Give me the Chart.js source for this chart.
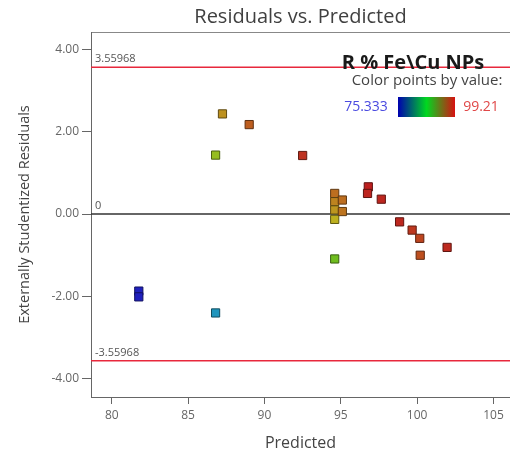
<!DOCTYPE html>
<html><head><meta charset="utf-8">
<script src="https://cdn.jsdelivr.net/npm/chart.js@4"></script>
<style>html,body{margin:0;padding:0;background:#fff}#wrap{width:510px;height:455px}</style>
</head><body><div id="wrap"><canvas id="c" width="510" height="455"></canvas></div>
<script>
// ---- data ----
const predicted = [81.77, 81.77, 86.8, 86.8, 87.25, 89.0, 92.5, 94.6, 94.6, 94.6, 94.6, 95.1, 95.1, 94.6, 96.8, 96.75, 97.65, 98.85, 99.67, 100.17, 100.2, 101.96];
const residuals = [-1.87, -2.01, -2.40, 1.43, 2.43, 2.17, 1.42, 0.50, 0.30, 0.10, -0.13, 0.34, 0.06, -1.09, 0.66, 0.50, 0.36, -0.19, -0.39, -0.59, -1.00, -0.81];
const responses = [75.4, 75.333, 79.8, 91.8, 94.9, 96.8, 98.5, 96.2, 95.4, 94.7, 93.7, 96.2, 96.0, 90.3, 99.21, 99.0, 98.9, 98.9, 98.3, 97.8, 97.4, 98.8];
const xTicks = [80, 85, 90, 95, 100, 105];
const yTicks = [-4, -2, 0, 2, 4];
const limitValue = 3.55968;
const refLines = [limitValue, 0, -limitValue];
const refLabels = ['3.55968', '0', '-3.55968'];
const colorMin = 75.333, colorMax = 99.21;
const colorRangeLabels = ['75.333', '99.21'];
const legendTitle = 'R % Fe\\Cu NPs';
const legendSub = 'Color points by value:';

const FONT = "'Open Sans', 'DejaVu Sans', sans-serif";

function hueOf(v) {
  let t = (v - colorMin) / (colorMax - colorMin);
  t = Math.max(0, Math.min(1, t));
  return 240 * (1 - t);
}
const fillColors = responses.map(v => `hsl(${hueOf(v)}, 72%, 43%)`);
const edgeColors = responses.map(v => `hsl(${hueOf(v)}, 70%, 22%)`);

const overlay = {
  id: 'overlay',
  beforeDatasetsDraw(chart) {
    const {ctx, chartArea: a, scales: {y}} = chart;
    ctx.save();
    ctx.beginPath(); ctx.rect(a.left, a.top, a.right - a.left, a.bottom - a.top); ctx.clip();
    refLines.forEach((v, i) => {
      const py = y.getPixelForValue(v);
      ctx.beginPath();
      ctx.strokeStyle = v === 0 ? '#333333' : '#e8283c';
      ctx.lineWidth = v === 0 ? 1.6 : 1.5;
      ctx.moveTo(a.left, py); ctx.lineTo(a.right, py); ctx.stroke();
      ctx.fillStyle = '#555';
      ctx.font = `11px ${FONT}`;
      ctx.textAlign = 'left'; ctx.textBaseline = 'middle';
      ctx.fillText(refLabels[i], a.left + 4, py - 8);
    });
    ctx.restore();
  },
  afterDraw(chart) {
    const {ctx} = chart;
    ctx.save();
    ctx.textAlign = 'center'; ctx.textBaseline = 'middle';
    ctx.fillStyle = '#1a1a1a';
    ctx.font = `bold 20px ${FONT}`;
    ctx.fillText(legendTitle, 413, 63);
    ctx.fillStyle = '#444';
    ctx.font = `15px ${FONT}`;
    ctx.fillText(legendSub, 427, 81);
    ctx.font = `14px ${FONT}`;
    ctx.fillStyle = '#4a4ae0';
    ctx.fillText(colorRangeLabels[0], 366, 107);
    ctx.fillStyle = '#e04848';
    ctx.fillText(colorRangeLabels[1], 481, 107);
    const g = ctx.createLinearGradient(398, 0, 455, 0);
    g.addColorStop(0, '#0000b0');
    g.addColorStop(0.5, '#00d820');
    g.addColorStop(1, '#d81010');
    ctx.fillStyle = g;
    ctx.fillRect(398, 97, 57, 20);
    ctx.restore();
  }
};

new Chart(document.getElementById('c'), {
  type: 'scatter',
  data: {
    datasets: [{
      data: predicted.map((x, i) => ({x, y: residuals[i]})),
      pointStyle: 'rect',
      pointRadius: 5.8,
      pointHoverRadius: 5.8,
      backgroundColor: fillColors,
      borderColor: edgeColors,
      borderWidth: 1
    }]
  },
  options: {
    responsive: false,
    animation: false,
    layout: {padding: 0, autoPadding: false},
    plugins: {
      legend: {display: false},
      tooltip: {enabled: false},
      title: {
        display: true, text: 'Residuals vs. Predicted', fullSize: false,
        color: '#404040', font: {family: FONT, size: 20, weight: 'normal'},
        padding: {top: 5, bottom: 3}
      }
    },
    scales: {
      x: {
        type: 'linear', min: 78.64, max: 106.08,
        afterBuildTicks: s => { s.ticks = xTicks.map(v => ({value: v})); },
        afterFit: s => { s.height = 58; s.paddingLeft = 0; s.paddingRight = 0; },
        grid: {display: true, drawOnChartArea: false, drawTicks: true, tickLength: 7, color: '#666'},
        border: {display: true, color: '#666', width: 1},
        ticks: {color: '#666', font: {family: FONT, size: 12}, padding: 4, callback: v => String(v)},
        title: {display: true, text: 'Predicted', color: '#444', font: {family: FONT, size: 16}, padding: {top: 0, bottom: 2}}
      },
      x2: {
        type: 'linear', position: 'top', min: 78.64, max: 106.08,
        afterFit: s => { s.height = 0; s.paddingLeft = 0; s.paddingRight = 0; },
        grid: {display: false},
        border: {display: true, color: '#888', width: 1},
        ticks: {display: false}
      },
      y: {
        type: 'linear', min: -4.44, max: 4.417,
        afterBuildTicks: s => { s.ticks = yTicks.map(v => ({value: v})); },
        afterFit: s => { s.width = 91; s.paddingTop = 0; s.paddingBottom = 0; },
        grid: {display: true, drawOnChartArea: false, drawTicks: true, tickLength: 9, color: '#666'},
        border: {display: true, color: '#666', width: 1},
        ticks: {color: '#666', font: {family: FONT, size: 12}, padding: 3, callback: v => Number(v).toFixed(2)},
        title: {display: true, text: 'Externally Studentized Residuals', color: '#444', font: {family: FONT, size: 14.5}, padding: {top: 16, bottom: 0}}
      }
    }
  },
  plugins: [overlay]
});
</script>
</body></html>
